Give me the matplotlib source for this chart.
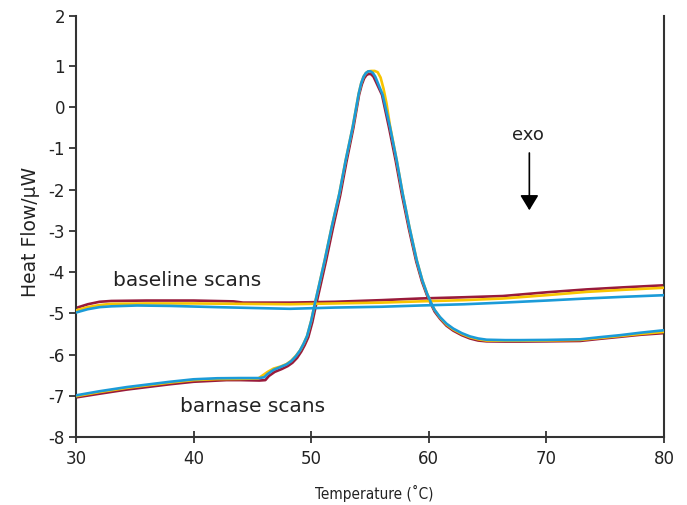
import numpy as np
import matplotlib
matplotlib.use("Agg")
import matplotlib.pyplot as plt

# ---------------- data ----------------
# baseline scans
base_red_T = [30, 31, 32, 33, 36, 40, 43.4, 44.2, 48.2, 52, 56, 59.25, 63, 66.3, 70, 73.4, 76.5, 80]
base_red_v = [-4.87, -4.78, -4.72, -4.70, -4.69, -4.69, -4.71, -4.74, -4.74, -4.72, -4.68, -4.64, -4.61, -4.58, -4.49, -4.42, -4.37, -4.32]
base_yel_T = [30, 31, 32, 33, 36, 40, 44, 48.2, 52, 56, 59.25, 63, 66.3, 70, 73.4, 76.5, 80]
base_yel_v = [-4.93, -4.85, -4.80, -4.77, -4.76, -4.76, -4.77, -4.78, -4.76, -4.74, -4.71, -4.68, -4.64, -4.56, -4.48, -4.43, -4.38]
base_blu_T = [30, 31, 32, 33, 35.2, 38, 42, 45, 48.2, 52, 56, 59.25, 63, 66.3, 70, 73.4, 76.5, 80]
base_blu_v = [-4.98, -4.90, -4.85, -4.83, -4.81, -4.82, -4.85, -4.87, -4.89, -4.86, -4.84, -4.81, -4.78, -4.74, -4.69, -4.64, -4.60, -4.56]

# barnase scans
barn_blu_T = [30, 32, 34.3, 36, 38, 40, 42, 44, 45.6, 46.0, 46.3, 46.8, 47.4, 47.9, 48.3, 48.7,
              49.05, 49.35, 49.65, 50.0, 50.3, 50.7, 51.15, 51.74, 52.39, 52.93, 53.53, 54.04,
              54.25, 54.45, 54.65, 54.85, 55.05, 55.25, 55.45, 55.65, 56.08, 56.7, 57.27, 57.78,
              58.35, 58.97, 59.45, 59.85, 60.2, 60.5, 60.95, 61.5, 62.08, 62.8, 63.5, 64.2, 64.92,
              66.5, 67.76, 70, 72.86, 74.5, 76.26, 78, 80]
barn_blu_v = [-6.99, -6.89, -6.79, -6.73, -6.66, -6.60, -6.575, -6.57, -6.57, -6.55, -6.47, -6.37,
              -6.30, -6.24, -6.16, -6.04, -5.90, -5.74, -5.55, -5.18, -4.78, -4.28, -3.71, -2.91,
              -2.10, -1.29, -0.48, 0.33, 0.58, 0.74, 0.83, 0.87, 0.87, 0.83, 0.74, 0.60, 0.30,
              -0.48, -1.29, -2.10, -2.91, -3.71, -4.20, -4.52, -4.75, -4.92, -5.09, -5.25, -5.37,
              -5.48, -5.56, -5.61, -5.64, -5.65, -5.65, -5.645, -5.63, -5.58, -5.53, -5.47, -5.41]

barn_yel_T = [30, 32, 34.3, 36, 38, 40, 42, 44, 45.5, 45.9, 46.3, 46.8, 47.4, 47.9, 48.3, 48.7,
              49.05, 49.35, 49.65, 50.0, 50.3, 50.7, 51.15, 51.74, 52.39, 52.93, 53.53, 54.04,
              54.25, 54.45, 54.65, 54.85, 55.1, 55.4, 55.65, 55.9, 56.15, 56.4, 56.7, 57.27, 57.78,
              58.35, 58.97, 59.45, 59.85, 60.2, 60.5, 60.95, 61.5, 62.08, 62.8, 63.5, 64.2, 64.92,
              66.5, 67.76, 70, 72.86, 74.5, 76.26, 78, 80]
barn_yel_v = [-7.01, -6.91, -6.81, -6.75, -6.68, -6.62, -6.595, -6.59, -6.58, -6.50, -6.42, -6.34,
              -6.29, -6.23, -6.15, -6.03, -5.90, -5.74, -5.55, -5.18, -4.78, -4.28, -3.71, -2.91,
              -2.10, -1.29, -0.48, 0.33, 0.58, 0.74, 0.83, 0.87, 0.88, 0.88, 0.85, 0.72, 0.45,
              0.10, -0.45, -1.29, -2.10, -2.91, -3.71, -4.20, -4.52, -4.75, -4.92, -5.10, -5.27,
              -5.39, -5.50, -5.58, -5.63, -5.66, -5.665, -5.665, -5.66, -5.645, -5.60, -5.55,
              -5.50, -5.45]

barn_red_T = [30, 32, 34.3, 36, 38, 40, 42.8, 44, 45.6, 46.1, 46.4, 46.9, 47.5, 48.0, 48.4, 48.8,
              49.15, 49.45, 49.75, 50.1, 50.4, 50.8, 51.25, 51.84, 52.47, 53.0, 53.58, 54.07,
              54.3, 54.5, 54.7, 54.9, 55.1, 55.3, 55.5, 56.02, 56.63, 57.2, 57.72, 58.3, 58.93,
              59.42, 59.83, 60.2, 60.5, 60.95, 61.5, 62.08, 62.8, 63.5, 64.2, 64.92, 66.5, 67.76,
              70, 72.86, 74.5, 76.26, 78, 80]
barn_red_v = [-7.04, -6.95, -6.85, -6.79, -6.72, -6.66, -6.62, -6.62, -6.63, -6.62, -6.52, -6.42,
              -6.35, -6.28, -6.20, -6.08, -5.93, -5.77, -5.58, -5.21, -4.81, -4.31, -3.74, -2.94,
              -2.13, -1.32, -0.51, 0.30, 0.55, 0.70, 0.78, 0.81, 0.80, 0.74, 0.62, 0.30, -0.51,
              -1.32, -2.13, -2.94, -3.74, -4.23, -4.55, -4.78, -4.96, -5.13, -5.30, -5.42, -5.53,
              -5.61, -5.66, -5.68, -5.685, -5.685, -5.68, -5.67, -5.62, -5.57, -5.52, -5.48]

x_ticks = [30, 40, 50, 60, 70, 80]
y_ticks = [-8, -7, -6, -5, -4, -3, -2, -1, 0, 1, 2]

RED = "#991b3b"
YEL = "#f8c400"
BLU = "#1b9bd8"

# ---------------- figure ----------------
plt.rcParams['font.family'] = ['DejaVu Sans']
fig = plt.figure(figsize=(6.87, 5.05), dpi=100)
ax = fig.add_axes([76/687, 1-437/505, (664-76)/687, (437-16)/505])

# y axis in the reference: 1 -> 2 spans more pixels than other unit steps
K = 50/41.22
def fwd(v):
    v = np.asarray(v, dtype=float)
    return np.where(v <= 1, v, 1 + (v - 1) * K)
def inv(u):
    u = np.asarray(u, dtype=float)
    return np.where(u <= 1, u, 1 + (u - 1) / K)
ax.set_yscale('function', functions=(fwd, inv))

lw = 1.9
ax.plot(base_red_T, base_red_v, color=RED, lw=lw, zorder=2)
ax.plot(base_yel_T, base_yel_v, color=YEL, lw=lw, zorder=3)
ax.plot(base_blu_T, base_blu_v, color=BLU, lw=lw, zorder=4)
ax.plot(barn_red_T, barn_red_v, color=RED, lw=lw, zorder=2)
ax.plot(barn_yel_T, barn_yel_v, color=YEL, lw=lw, zorder=3)
ax.plot(barn_blu_T, barn_blu_v, color=BLU, lw=lw, zorder=4)

ax.set_xlim(30, 80)
ax.set_ylim(-8, 2)
ax.set_xticks(x_ticks)
ax.set_yticks(y_ticks)
ax.set_yticklabels([str(t) for t in y_ticks])
ax.yaxis.set_minor_locator(matplotlib.ticker.NullLocator())

for s in ['left', 'bottom', 'right']:
    ax.spines[s].set_color('#333333')
    ax.spines[s].set_linewidth(1.5)
ax.spines['top'].set_visible(False)
ax.tick_params(axis='y', direction='out', length=5, width=1.3, colors='#333333',
               labelcolor='#222222', labelsize=12, pad=3)
ax.tick_params(axis='x', direction='inout', length=8, width=1.3, colors='#333333',
               labelcolor='#222222', labelsize=12, pad=5)

ax.text(33.17, -4.20, "baseline scans", fontsize=14.5, color='#222222', va='center', ha='left')
ax.text(38.84, -7.27, "barnase scans", fontsize=14.5, color='#222222', va='center', ha='left')
ax.text(68.41, -0.68, "exo", fontsize=13, color='#222222', va='center', ha='center')
ax.annotate("", xy=(68.55, -2.50), xytext=(68.55, -1.11),
            arrowprops=dict(arrowstyle='-|>,head_length=0.46,head_width=0.28',
                            mutation_scale=20, color='black', lw=1.2,
                            shrinkA=0, shrinkB=0))

fig.text(30/687, 1-232/505, "Heat Flow/\u03bcW", rotation=90, fontsize=13.5,
         color='#222222', ha='center', va='center')
fig.text(374/687, 1-493/505, "Temperature (\u02daC)", fontsize=11,
         family=['DejaVu Sans'], fontstretch='condensed',
         color='#222222', ha='center', va='center')

fig.savefig("out.png", dpi=100)
